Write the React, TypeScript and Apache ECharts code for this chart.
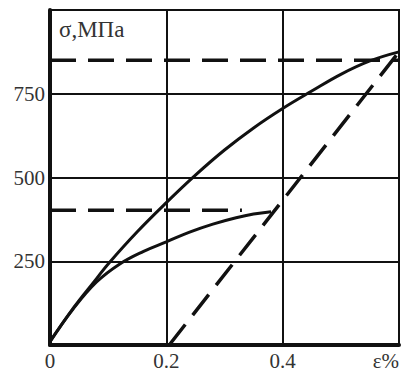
import React, { useEffect, useRef } from "react";
import * as echarts from "echarts";

// strain (ε, %) ticks and stress (σ, MPa) ticks
const xTicks = [0, 0.2, 0.4, 0.6];
const xTickLabels = ["0", "0.2", "0.4", "ε%"];
const yTicks = [0, 250, 500, 750, 1000];
const yTickLabels = ["", "250", "500", "750", ""];

// upper loading curve
const upperStrain = [0, 0.04, 0.08, 0.1, 0.15, 0.2, 0.25, 0.3, 0.35, 0.4, 0.45, 0.5, 0.55, 0.6];
const upperStress = [10, 110, 198, 242, 338, 425, 507, 582, 648, 706, 758, 808, 848, 875];

// lower loading curve
const lowerStrain = [0, 0.04, 0.08, 0.12, 0.16, 0.2, 0.24, 0.28, 0.32, 0.35, 0.38];
const lowerStress = [10, 108, 188, 242, 279, 308, 337, 361, 380, 391, 398];

// dashed reference lines
const topDashStrain = [0, 0.6];
const topDashStress = [850, 850];
const midDashStrain = [0, 0.33];
const midDashStress = [402, 402];
const offsetStrain = [0.205, 0.6];
const offsetStress = [0, 875];

const zip = (xs: number[], ys: number[]) => xs.map((x, i) => [x, ys[i]]);

const FONT = "'Liberation Serif', 'Times New Roman', serif";
const INK = "#111";
const TEXT = "#333";

export default function App() {
  const ref = useRef<HTMLDivElement>(null);

  useEffect(() => {
    if (!ref.current) return;
    const chart = echarts.init(ref.current, null, { renderer: "svg" });
    const dashed = {
      type: "line",
      showSymbol: false,
      lineStyle: { color: INK, width: 3.5, type: [26, 12] },
      z: 3,
    };
    chart.setOption({
      animation: false,
      backgroundColor: "#fff",
      title: {
        text: "σ,МПа",
        left: 54,
        top: 13,
        textStyle: { fontFamily: FONT, fontSize: 23, fontWeight: "normal", color: TEXT },
      },
      grid: {
        left: 50,
        right: 4,
        top: 10,
        bottom: 25,
        show: true,
        borderColor: INK,
        borderWidth: 2,
      },
      xAxis: {
        type: "value",
        min: xTicks[0],
        max: xTicks[xTicks.length - 1],
        interval: 0.2,
        axisLine: { show: true, onZero: false, lineStyle: { color: INK, width: 4 } },
        axisTick: { show: false },
        splitLine: { show: true, lineStyle: { color: INK, width: 2 } },
        axisLabel: {
          margin: 5,
          fontFamily: FONT,
          fontSize: 21,
          color: TEXT,
          alignMaxLabel: "right",
          formatter: (v: number) => {
            const i = xTicks.findIndex((t) => Math.abs(t - v) < 1e-6);
            return i >= 0 ? xTickLabels[i] : "";
          },
        },
      },
      yAxis: {
        type: "value",
        min: yTicks[0],
        max: yTicks[yTicks.length - 1],
        interval: 250,
        axisLine: { show: true, onZero: false, lineStyle: { color: INK, width: 4 } },
        axisTick: { show: false },
        splitLine: { show: true, lineStyle: { color: INK, width: 2 } },
        axisLabel: {
          margin: 5,
          fontFamily: FONT,
          fontSize: 21,
          color: TEXT,
          formatter: (v: number) => {
            const i = yTicks.indexOf(v);
            return i >= 0 ? yTickLabels[i] : "";
          },
        },
      },
      series: [
        {
          type: "line",
          data: zip(upperStrain, upperStress),
          smooth: 0.4,
          showSymbol: false,
          lineStyle: { color: INK, width: 3 },
          z: 4,
        },
        {
          type: "line",
          data: zip(lowerStrain, lowerStress),
          smooth: 0.4,
          showSymbol: false,
          lineStyle: { color: INK, width: 3 },
          z: 4,
        },
        { ...dashed, data: zip(topDashStrain, topDashStress) },
        { ...dashed, data: zip(midDashStrain, midDashStress) },
        { ...dashed, data: zip(offsetStrain, offsetStress) },
      ],
    });
    return () => chart.dispose();
  }, []);

  return (
    <div
      ref={ref}
      style={{ position: "absolute", left: 0, top: 0, width: 403, height: 371 }}
    />
  );
}
